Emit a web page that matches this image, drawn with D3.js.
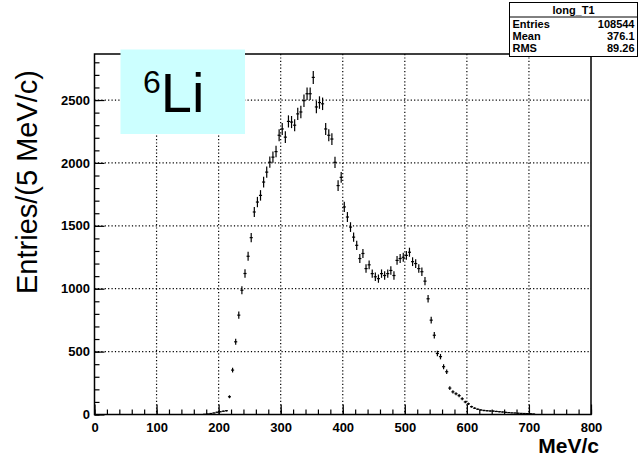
<!DOCTYPE html>
<html>
<head>
<meta charset="utf-8">
<script src="https://cdnjs.cloudflare.com/ajax/libs/d3/7.8.5/d3.min.js"></script>
<style>
body { margin: 0; background: #fff; }
svg { display: block; }
.tick text { font-family: "Liberation Sans", Arial, sans-serif; font-weight: bold; font-size: 13px; fill: #000; }
.stat { font-family: "Liberation Sans", Arial, sans-serif; font-weight: bold; font-size: 11px; }
</style>
</head>
<body>
<script>
// histogram long_T1, 5 MeV/c bins
var binCenters = [177.5, 182.5, 187.5, 192.5, 197.5, 202.5, 207.5, 212.5, 217.5, 222.5,
    227.5, 232.5, 237.5, 242.5, 247.5, 252.5, 257.5, 262.5, 267.5, 272.5,
    277.5, 282.5, 287.5, 292.5, 297.5, 302.5, 307.5, 312.5, 317.5, 322.5,
    327.5, 332.5, 337.5, 342.5, 347.5, 352.5, 357.5, 362.5, 367.5, 372.5,
    377.5, 382.5, 387.5, 392.5, 397.5, 402.5, 407.5, 412.5, 417.5, 422.5,
    427.5, 432.5, 437.5, 442.5, 447.5, 452.5, 457.5, 462.5, 467.5, 472.5,
    477.5, 482.5, 487.5, 492.5, 497.5, 502.5, 507.5, 512.5, 517.5, 522.5,
    527.5, 532.5, 537.5, 542.5, 547.5, 552.5, 557.5, 562.5, 567.5, 572.5,
    577.5, 582.5, 587.5, 592.5, 597.5, 602.5, 607.5, 612.5, 617.5, 622.5,
    627.5, 632.5, 637.5, 642.5, 647.5, 652.5, 657.5, 662.5, 667.5, 672.5,
    677.5, 682.5, 687.5, 692.5, 697.5, 702.5, 707.5];
var counts = [2, 4, 8, 12, 18, 22, 26, 30, 141, 353,
    578, 790, 988, 1121, 1258, 1406, 1610, 1689, 1742, 1848,
    1927, 2006, 2046, 2090, 2220, 2270, 2205, 2330, 2325, 2300,
    2390, 2405, 2495, 2550, 2550, 2680, 2445, 2480, 2470, 2270,
    2220, 2190, 2005, 1820, 1885, 1650, 1570, 1490, 1410, 1345,
    1240, 1280, 1160, 1190, 1120, 1095, 1080, 1120, 1105, 1120,
    1145, 1105, 1225, 1240, 1250, 1265, 1290, 1215, 1200, 1160,
    1135, 1060, 920, 750, 630, 485, 460, 380, 340, 210,
    180, 165, 150, 125, 100, 85, 62, 50, 42, 36,
    32, 30, 28, 27, 24, 22, 20, 17, 15, 13,
    12, 10, 9, 8, 7, 6, 4];
var binWidth = 5;

var xTicks = [0, 100, 200, 300, 400, 500, 600, 700, 800];
var yTicks = [0, 500, 1000, 1500, 2000, 2500];
var statNames = ["Entries", "Mean", "RMS"];
var statValues = ["108544", "376.1", "89.26"];

var width = 640,
height = 460;
var frame = { left: 94.5, right: 591, top: 54, bottom: 414.5 };

var svg = d3.select("body").append("svg")
.attr("width", width)
.attr("height", height);

var x = d3.scaleLinear().domain([0, 800]).range([frame.left, frame.right]);
var y = d3.scaleLinear().domain([0, 2866]).range([frame.bottom, frame.top]);

// dotted grid
svg.append("g")
.selectAll("line")
.data(xTicks.slice(1, -1))
.enter().append("line")
.attr("x1", function(d) { return x(d); })
.attr("x2", function(d) { return x(d); })
.attr("y1", frame.top)
.attr("y2", frame.bottom)
.attr("stroke", "#000")
.attr("stroke-width", 1.2)
.attr("stroke-dasharray", "1.2,2.2");

svg.append("g")
.selectAll("line")
.data(yTicks.slice(1))
.enter().append("line")
.attr("x1", frame.left)
.attr("x2", frame.right)
.attr("y1", function(d) { return y(d); })
.attr("y2", function(d) { return y(d); })
.attr("stroke", "#000")
.attr("stroke-width", 1.2)
.attr("stroke-dasharray", "1.2,2.2");

// axes, ticks pointing inside the frame
var xMinor = d3.range(0, 801, 20);
var yMinor = d3.range(0, 2866, 100);

svg.append("g")
.attr("transform", "translate(0," + frame.bottom + ")")
.call(d3.axisBottom(x).tickValues(xMinor).tickSize(-5).tickFormat(""))
.call(function(g) { g.select(".domain").remove(); });

svg.append("g")
.attr("transform", "translate(0," + frame.bottom + ")")
.call(d3.axisBottom(x).tickValues(xTicks).tickSize(-10).tickPadding(8.5).tickFormat(d3.format("d")))
.call(function(g) { g.select(".domain").remove(); });

svg.append("g")
.attr("transform", "translate(" + frame.left + ",0)")
.call(d3.axisLeft(y).tickValues(yMinor).tickSize(-5).tickFormat(""))
.call(function(g) { g.select(".domain").remove(); });

svg.append("g")
.attr("transform", "translate(" + frame.left + ",0)")
.call(d3.axisLeft(y).tickValues(yTicks).tickSize(-10).tickPadding(4.5).tickFormat(d3.format("d")))
.call(function(g) { g.select(".domain").remove(); });

svg.selectAll(".tick line").attr("stroke", "#000").attr("stroke-width", 1.2);

// frame
svg.append("rect")
.attr("x", frame.left)
.attr("y", frame.top)
.attr("width", frame.right - frame.left)
.attr("height", frame.bottom - frame.top)
.attr("fill", "none")
.attr("stroke", "#000")
.attr("stroke-width", 1.5);

// data points with errors
var pts = svg.append("g")
.selectAll("g")
.data(counts)
.enter().append("g");

pts.append("line")
.attr("x1", function(d, i) { return x(binCenters[i] - binWidth / 2); })
.attr("x2", function(d, i) { return x(binCenters[i] + binWidth / 2); })
.attr("y1", function(d) { return y(d); })
.attr("y2", function(d) { return y(d); })
.attr("stroke", "#000")
.attr("stroke-width", 1.2);

pts.append("line")
.attr("x1", function(d, i) { return x(binCenters[i]); })
.attr("x2", function(d, i) { return x(binCenters[i]); })
.attr("y1", function(d) { return y(d + Math.sqrt(d)); })
.attr("y2", function(d) { return y(d - Math.sqrt(d)); })
.attr("stroke", "#000")
.attr("stroke-width", 1.2);

// axis titles
svg.append("text")
.attr("transform", "translate(37,182)rotate(-90)")
.attr("text-anchor", "middle")
.style("font-family", "Liberation Sans, Arial, sans-serif")
.style("font-size", "29px")
.text("Entries/(5 MeV/c)");

svg.append("text")
.attr("x", 599)
.attr("y", 453)
.attr("text-anchor", "end")
.style("font-family", "Liberation Sans, Arial, sans-serif")
.style("font-weight", "bold")
.style("font-size", "21px")
.text("MeV/c");

// 6Li label box
svg.append("rect")
.attr("x", 120.5)
.attr("y", 49.5)
.attr("width", 124.5)
.attr("height", 84.5)
.attr("fill", "#ccffff");

var li = svg.append("text")
.attr("x", 143)
.attr("y", 112)
.style("font-family", "Liberation Sans, Arial, sans-serif");
li.append("tspan")
.attr("dy", -19)
.style("font-size", "32px")
.text("6");
li.append("tspan")
.attr("dy", 19)
.style("font-size", "56px")
.text("Li");

// stats box
var sb = svg.append("g").attr("transform", "translate(509.5,2.5)");
sb.append("rect")
.attr("width", 128)
.attr("height", 54)
.attr("fill", "#fff")
.attr("stroke", "#000");
sb.append("line")
.attr("x1", 0).attr("x2", 128)
.attr("y1", 14.5).attr("y2", 14.5)
.attr("stroke", "#000");
sb.append("text")
.attr("class", "stat")
.attr("x", 64)
.attr("y", 11.5)
.attr("text-anchor", "middle")
.text("long_T1");
sb.selectAll(".sname")
.data(statNames)
.enter().append("text")
.attr("class", "stat sname")
.attr("x", 3)
.attr("y", function(d, i) { return 25.5 + i * 12; })
.text(function(d) { return d; });
sb.selectAll(".sval")
.data(statValues)
.enter().append("text")
.attr("class", "stat sval")
.attr("x", 125)
.attr("y", function(d, i) { return 25.5 + i * 12; })
.attr("text-anchor", "end")
.text(function(d) { return d; });
</script>
</body>
</html>
